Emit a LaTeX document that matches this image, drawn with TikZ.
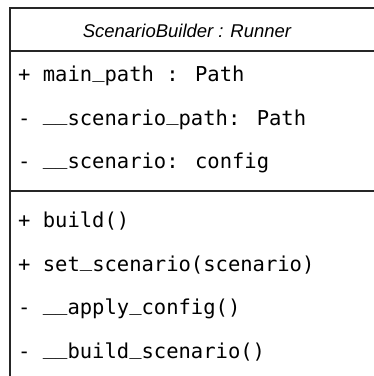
\documentclass[tikz,border=0pt]{standalone}
\usepackage{fontspec}
\setmainfont{Liberation Sans}
\newfontfamily\codefont{DejaVu Sans Mono}
\usepackage{tikz}
\newcommand{\us}{\raisebox{0.2em}{\_}}

\begin{document}
\begin{tikzpicture}[x=1pt, y=-1pt,
    umlline/.style={line width=2pt, black!85},
    member/.style={anchor=base west, inner sep=0pt, font=\codefont\fontsize{20.5}{24}\selectfont}]
  \useasboundingbox (0,0) rectangle (374,376);
  % class box (runs off the right and bottom)
  \draw[umlline] (374,7.5) -- (10.5,7.5) -- (10.5,376);
  \draw[umlline] (10.5,51) -- (374,51);
  \draw[umlline] (10.5,190.5) -- (374,190.5);
  \node[anchor=base, inner sep=0pt, font=\itshape\fontsize{18.5}{20}\selectfont] (title) at (187,37.5) {ScenarioBuilder : Runner};
  % attributes
  \node[member] (mainpath) at (18,81.5) {+ main\us path : Path};
  \node[member] (scenpath) at (18,125) {- \us\us scenario\us path: Path};
  \node[member] (scenconf) at (18,168.5) {- \us\us scenario: config};
  % methods
  \node[member] (build) at (18,227) {+ build()};
  \node[member] (setscen) at (18,271) {+ set\us scenario(scenario)};
  \node[member] (applyconf) at (18,314.5) {- \us\us apply\us config()};
  \node[member] (buildscen) at (18,358.5) {- \us\us build\us scenario()};
\end{tikzpicture}
\end{document}
